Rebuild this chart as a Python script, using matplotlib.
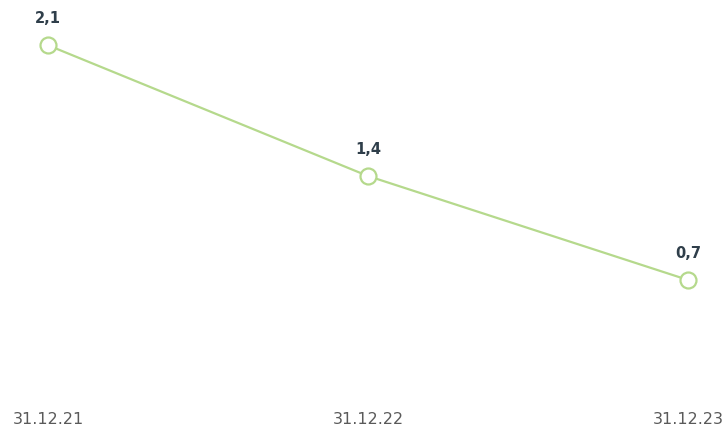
import matplotlib
matplotlib.use("Agg")
import matplotlib.pyplot as plt

# data
dates = ["31.12.21", "31.12.22", "31.12.23"]
values = [2.14, 1.36, 0.74]

line_color = "#b5d98c"
label_color = "#2f3e4a"
tick_color = "#5a5a5a"

fig = plt.figure(figsize=(7.26, 4.32), dpi=100)
ax = fig.add_axes([0, 28 / 432, 1, 404 / 432])

x = list(range(len(dates)))
ax.plot(x, values, color=line_color, linewidth=1.6, marker="o", markersize=11.5,
        markerfacecolor="white", markeredgecolor=line_color, markeredgewidth=1.6,
        zorder=3)

for xi, v in zip(x, values):
    ax.annotate(f"{v:.1f}".replace(".", ","), (xi, v), xytext=(0, 14),
                textcoords="offset points", ha="center", va="bottom",
                fontsize=10.5, fontweight="bold", color=label_color)

ax.set_xlim(-0.15, 2.119)
ax.set_ylim(0, 2.41)
ax.set_xticks(x)
ax.set_xticklabels(dates, fontsize=11.5, color=tick_color)
ax.tick_params(axis="x", length=0, pad=6)
ax.set_yticks([])
for s in ax.spines.values():
    s.set_visible(False)

fig.savefig("out.png", dpi=100)
